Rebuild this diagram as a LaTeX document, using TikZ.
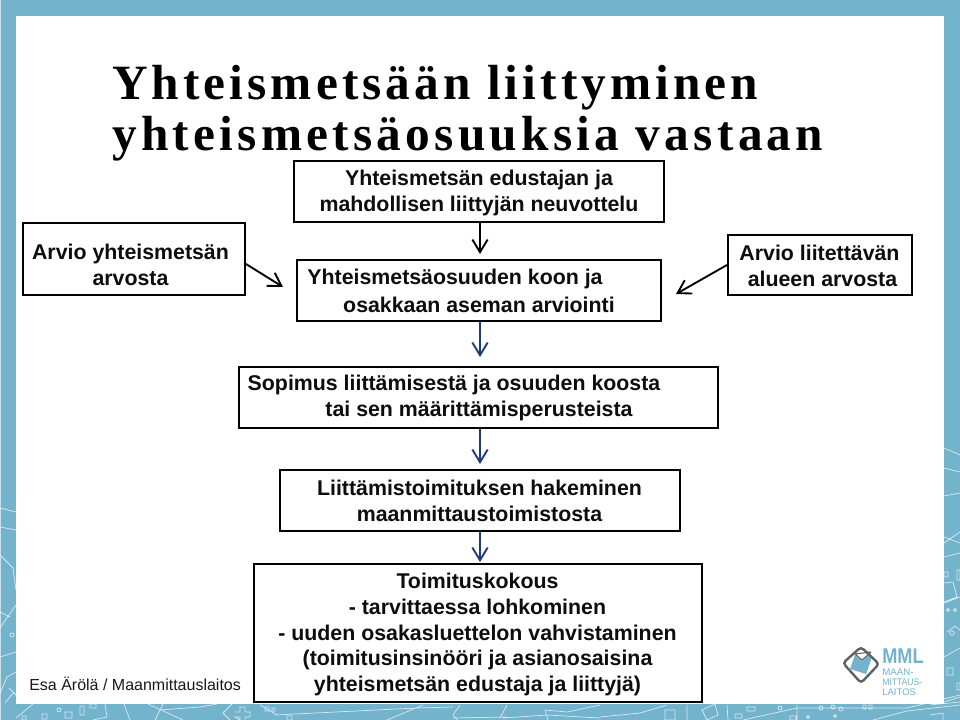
\documentclass[tikz,border=0pt]{standalone}
\usepackage{fontspec}
\setmainfont{Liberation Sans}
\newfontfamily\titlefont[LetterSpace=8.25]{Liberation Serif}
\newfontfamily\titlefontb[LetterSpace=8.65]{Liberation Serif}
\usetikzlibrary{arrows.meta}
\definecolor{bordercol}{HTML}{74B3CC}
\definecolor{navyarrow}{HTML}{1F3A78}
\definecolor{logogrey}{HTML}{5F6266}
\tikzset{
  x=0.75pt,y=-0.75pt,
  box/.style={draw=black,line width=1.5pt,fill=white,inner sep=0pt,anchor=north west},
  boxtext/.style={font=\fontsize{16pt}{19.35pt}\selectfont\bfseries,inner sep=0pt,align=center,anchor=center,text=black!95},
  ttl/.style={font=\fontsize{37pt}{39pt}\selectfont\bfseries,inner sep=0pt,anchor=base west},
  arr/.style={line width=1.4pt,-{Straight Barb[length=9.5pt,width=11.5pt,line width=1.4pt]}},
  maplines/.style={draw=white,line width=0.55pt,opacity=.7}
}
\begin{document}
\begin{tikzpicture}
\useasboundingbox (0,0) rectangle (960,720);
\fill[bordercol] (0,0) rectangle (960,720);
\fill[white,opacity=.6] (0,0) rectangle (1,720);
% map pattern in the frame: left side
\draw[maplines] (0,508) -- (16,512) (0,527) -- (16,530) (0,555) -- (13,568) -- (16,590)
 (16,605) -- (0,628) (0,612) -- (10,617) (0,657) -- (16,652) (16,672) -- (7,677) -- (0,693)
 (12,635) circle (2) (13,693) -- (5,703) (9,688) -- (16,695);
% bottom side
\draw[maplines] (16,718) -- (33,704) (105,704) -- (107,717) -- (93,720) (124,704) -- (130,720)
 (148,704) -- (183,720) (163,704) -- (155,720) (160,710) -- (200,707) -- (217,704)
 (232,704) -- (223,713) -- (230,720)
 (22,716) rectangle +(4,4) (42,714) rectangle +(5,5) (59,710) circle (2) (65,712) rectangle +(7,6)
 (80,706) rectangle +(4,9) (90,704) rectangle +(6,4)
 (235,712) -- (240,712) -- (240,707) -- (245,707) -- (245,712) -- (250,712) -- (250,717) -- (245,717) -- (245,720) (240,720) -- (240,717) -- (235,717) -- cycle
 (260,705) -- (277,715) (265,707) rectangle +(4,4) (272,708) rectangle +(3,3) (287,716) rectangle +(5,4)
 (275,715) -- (417,708) -- (453,707) (423,705) -- (387,720) (460,705) -- (453,715) -- (457,720)
 (453,718) -- (507,717) (507,705) -- (500,718) (503,718) -- (547,715) -- (600,718)
 (545,710) -- (567,712) -- (600,705) (545,710) -- (548,720)
 (600,717) -- (640,713) -- (667,705) (665,710) rectangle (675,720) (687,705) -- (687,720)
 (702,710) -- (715,704) -- (718,715) -- (707,720) -- cycle (727,705) -- (728,720)
 (735,714) rectangle +(7,4) (747,707) rectangle +(8,4) (743,720) -- (797,708) -- (907,708) -- (960,695)
 (797,705) -- (797,720) (780,708) circle (2) (821,708) circle (2) (833,707) circle (2) (841,709) circle (2)
 (863,705) rectangle +(3,4) (869,705) rectangle +(3,4) (873,720) -- (907,711) -- (960,705)
 (790,716) rectangle +(6,4) (808,717) circle (1.5) (835,716) circle (1.5);
% right side
\draw[maplines] (944,448) -- (960,455) (944,468) -- (960,472) (944,496) -- (960,493)
 (944,543) -- (960,532) (944,537) -- (960,543) (944,557) -- (960,553)
 (944,572) rectangle (948,577) (957,570) rectangle (960,580)
 (944,583) -- (953,582) -- (957,597) -- (944,602) (944,603) -- (960,597)
 (948,610) circle (1.5) (955,610) circle (1.5) (952,633) circle (2.2) (947,632) -- (955,626) -- (960,630)
 (944,657) -- (960,648) (947,668) rectangle (953,675) (957,683) rectangle (960,690)
 (944,702) -- (960,697) (930,705) -- (960,702) (930,715) -- (943,713) -- (943,720);
\fill[white] (16,16) rectangle (944,704);
% title
\node[ttl] (t1) at (112,100) {\titlefont\bfseries Yhteismetsään liittyminen};
\node[ttl] (t2) at (112,151) {\titlefontb\bfseries yhteismetsäosuuksia vastaan};
% boxes
\node[box,minimum width=370.5*0.75pt,minimum height=61*0.75pt] (b1) at (292.5,160) {};
\node[boxtext] (b1t) at (479,193) {Yhteismetsän edustajan ja\\mahdollisen liittyjän neuvottelu};
\node[box,minimum width=222*0.75pt,minimum height=72*0.75pt] (l) at (22,222) {};
\node[boxtext] (lt) at (130.5,265) {Arvio yhteismetsän\\arvosta};
\node[box,minimum width=364*0.75pt,minimum height=61*0.75pt] (b2) at (296,259) {};
\node[boxtext] (b2a) at (455,279) {Yhteismetsäosuuden koon ja};
\node[boxtext] (b2b) at (479,305) {osakkaan aseman arviointi};
\node[box,minimum width=184*0.75pt,minimum height=60*0.75pt] (r) at (727,234) {};
\node[boxtext] (ra) at (819.5,253) {Arvio liitettävän};
\node[boxtext] (rb) at (822.5,279) {alueen arvosta};
\node[box,minimum width=479*0.75pt,minimum height=61*0.75pt] (b3) at (238,366) {};
\node[boxtext] (b3a) at (454,385) {Sopimus liittämisestä ja osuuden koosta};
\node[boxtext] (b3b) at (479,411) {tai sen määrittämisperusteista};
\node[box,minimum width=400*0.75pt,minimum height=61*0.75pt] (b4) at (278.5,469) {};
\node[boxtext] (b4t) at (479.5,501) {Liittämistoimituksen hakeminen\\maanmittaustoimistosta};
\node[box,minimum width=448*0.75pt,minimum height=138*0.75pt] (b5) at (252.5,563) {};
\node[boxtext] (b5t) at (477.5,634.5) {Toimituskokous\\- tarvittaessa lohkominen\\- uuden osakasluettelon vahvistaminen\\(toimitusinsinööri ja asianosaisina\\yhteismetsän edustaja ja liittyjä)};
\node[font=\fontsize{12pt}{14pt}\selectfont,inner sep=0pt,anchor=base west,text=black!90] (credit) at (29,690) {Esa Ärölä / Maanmittauslaitos};
% connectors
\coordinate (e1) at (480,254);
\coordinate (e2) at (480,357);
\coordinate (e3) at (480,464);
\coordinate (e4) at (480,562);
\coordinate (eL) at (283,287);
\coordinate (eR) at (676,294);
\draw[arr] (b1.south -| e1) -- (e1);
\draw[arr,navyarrow] (b2.south -| e2) -- (e2);
\draw[arr,navyarrow] (b3.south -| e3) -- (e3);
\draw[arr,navyarrow] (b4.south -| e4) -- (e4);
\draw[arr] (l.east |- 0,264) -- (eL);
\draw[arr] (r.west |- 0,265) -- (eR);
% logo
\fill[bordercol] (855,655) -- (862,661) -- (870,653) -- (871,660) -- (866,674) -- (850,669) -- cycle;
\draw[logogrey,line width=1.8pt,rounded corners=2.5pt] (861,647) -- (879,664) -- (861,683) -- (843,663) -- cycle;
\draw[logogrey,line width=.8pt] (855,654) -- (862,660) -- (871,652) (855,654) -- (871,652);
\node[font=\bfseries,text=bordercol,inner sep=0pt,anchor=south west] (mml) at (882,664) {\resizebox{31pt}{11pt}{MML}};
\node[font=\fontsize{7pt}{7.2pt}\selectfont,text=bordercol,inner sep=0pt,anchor=north west,align=left] (mmlt) at (882,669) {\resizebox{!}{5pt}{MAAN-}\\\resizebox{30pt}{5pt}{MITTAUS-}\\\resizebox{!}{5pt}{LAITOS}};
\end{tikzpicture}
\end{document}
